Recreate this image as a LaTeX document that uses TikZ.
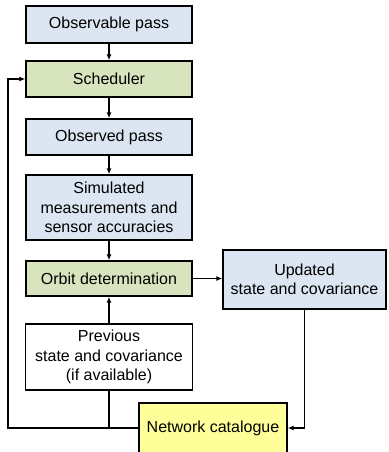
\documentclass[tikz,border=0pt]{standalone}
\usepackage{fontspec}
\setmainfont{Liberation Sans}
\usetikzlibrary{arrows.meta}

\definecolor{passblue}{HTML}{DCE6F2}
\definecolor{taskgreen}{HTML}{D7E4BD}
\definecolor{catyellow}{HTML}{FFFF99}

\tikzset{
  box/.style={draw=black, line width=1.4pt, align=center, inner sep=0pt,
    font=\fontsize{16}{19.5}\selectfont},
  flow/.style={line width=1.4pt, -{Latex[length=6pt,width=5pt]}},
  link/.style={line width=1.4pt}
}

\begin{document}
\begin{tikzpicture}[x=1pt, y=-1pt]
  \def\Xl{109};   % left column
  \def\Xr{304.5}; % right column
  \def\Wl{166};   % width of left boxes
  \useasboundingbox (0,0) rectangle (388,452);

        % left column
        \node[box, fill=passblue, minimum width=\Wl, minimum height=37]
          (observable) at (\Xl, 24.5) {Observable pass};
        \node[box, fill=taskgreen, minimum width=\Wl, minimum height=36]
          (scheduler) at (\Xl, 79) {Scheduler};
        \node[box, fill=passblue, minimum width=\Wl, minimum height=36]
          (observed) at (\Xl, 137) {Observed pass};
        \node[box, fill=passblue, minimum width=\Wl, minimum height=65]
          (simulated) at (\Xl, 207.5) {Simulated\\measurements and\\sensor accuracies};
        \node[box, fill=taskgreen, minimum width=\Wl, minimum height=35]
          (orbit) at (\Xl, 278.5) {Orbit determination};
        \node[box, fill=white, minimum width=167, minimum height=66]
          (previous) at (\Xl, 357) {Previous\\state and covariance\\(if available)};

        % right column
        \node[box, fill=passblue, minimum width=163, minimum height=59]
          (updated) at (\Xr, 279.5) {Updated\\state and covariance};
        \node[box, fill=catyellow, minimum width=148, minimum height=50]
          (catalogue) at (213, 428) {Network catalogue};

        % main flow
        \draw[flow] (observable) -- (scheduler);
        \draw[flow] (scheduler) -- (observed);
        \draw[flow] (observed) -- (simulated);
        \draw[flow] (simulated) -- (orbit);
        \draw[flow] (previous) -- (orbit);
        \draw[flow] (orbit.east) -- (orbit.east -| updated.west);

        % back to the catalogue
        \draw[flow] (updated.south) |- (catalogue.east);

        % feedback loop
        \coordinate (loop) at (8, 428);
        \draw[flow] (catalogue.west) -- (loop) |- (scheduler.west);
        \draw[link] (previous.south) -- (previous.south |- catalogue.west);
\end{tikzpicture}
\end{document}
